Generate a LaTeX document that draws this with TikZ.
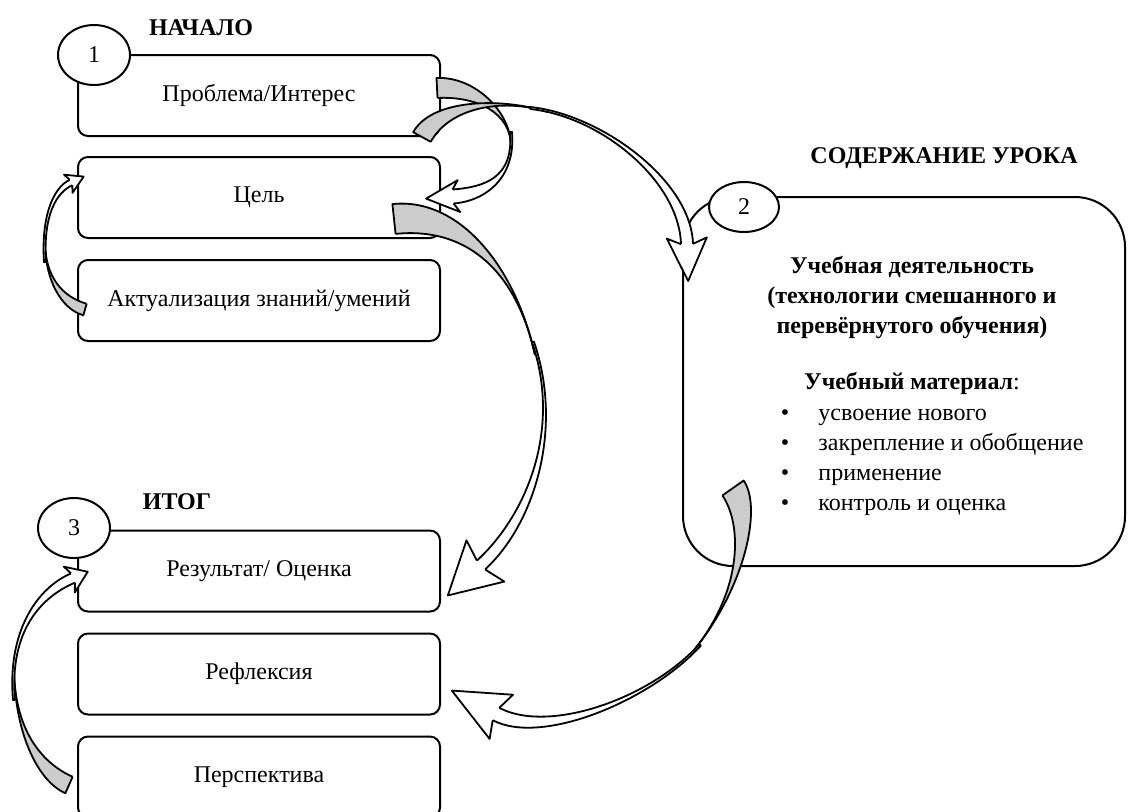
\documentclass[tikz,border=0pt]{standalone}
\usepackage{fontspec}
\setmainfont{Liberation Serif}
\usetikzlibrary{positioning,calc,shapes.geometric}
\definecolor{ribgray}{HTML}{CCCCCC}
\tikzset{
  stagebox/.style   = {draw, fill=white, line width=1pt, rounded corners=5pt, minimum width=181pt, minimum height=40.5pt, font=\fontsize{12}{14}\selectfont},
  lessonbox/.style  = {draw, line width=1pt, rounded corners=25pt, minimum width=221pt, minimum height=184.5pt},
  numcirc/.style    = {ellipse, draw, fill=white, line width=1pt, inner sep=0pt, minimum width=36pt, minimum height=30pt, font=\fontsize{12}{14}\selectfont},
  stagetitle/.style = {font=\fontsize{12}{14}\selectfont\bfseries, inner sep=0pt},
  lessontext/.style = {font=\fontsize{12}{15}\selectfont, inner sep=0pt},
  listtext/.style   = {lessontext, text height=8.5pt, text depth=2.5pt},
  ribline/.style    = {line width=0.9pt, line join=round},
}
% tapered band along a curve: start, c1, c2, end, half width at start, half width at end, fill
\newcommand\ribbon[7]{%
  \path ($#1!#5!90:#2$) coordinate (rbA)
        ($#1!#5!-90:#2$) coordinate (rbB)
        ($#4!#6!-90:#3$) coordinate (rbC)
        ($#4!#6!90:#3$)  coordinate (rbD);
  \fill[#7] (rbA) .. controls ($#2+(rbA)-#1$) and ($#3+(rbC)-#4$) .. (rbC)
     -- (rbD) .. controls ($#3+(rbD)-#4$) and ($#2+(rbB)-#1$) .. (rbB) -- cycle;
  \draw[ribline] (rbB) -- (rbA) .. controls ($#2+(rbA)-#1$) and ($#3+(rbC)-#4$) .. (rbC);
  \draw[ribline] (rbD) .. controls ($#3+(rbD)-#4$) and ($#2+(rbB)-#1$) .. (rbB);
}
% head at the end of a band: c2, base, shaft half width, barb half width, length, notch
\newcommand\ribhead[6]{%
  \path ($#2!#3!-90:#1$) coordinate (hdL)
        ($#2!#3!90:#1$)  coordinate (hdR)
        ($#2!#6!#1$)     coordinate (hdN)
        ($#2!-#5!#1$)    coordinate (hdT);
  \path ($(hdN)!#4!-90:#1$) coordinate (hdBL)
        ($(hdN)!#4!90:#1$)  coordinate (hdBR);
  \fill[white] (hdL) -- (hdBL) -- (hdT) -- (hdBR) -- (hdR) -- cycle;
  \draw[ribline] (hdL) -- (hdBL) -- (hdT) -- (hdBR) -- (hdR);
}

\begin{document}
\begin{tikzpicture}[x=0.5pt,y=-0.5pt]
\path[use as bounding box] (0,0) rectangle (1128,811);

% ---- start ----------------------------------------------------------------
\node[stagebox] (prob) at (259,95.5) {Проблема/Интерес};
\node[stagebox, below=9.5pt of prob] (goal) {Цель};
\node[stagebox, below=10pt of goal] (recall) {Актуализация знаний/умений};

% ---- outcome --------------------------------------------------------------
\node[stagebox] (res) at (259,571) {Результат/ Оценка};
\node[stagebox, below=10pt of res] (refl) {Рефлексия};
\node[stagebox, below=10pt of refl] (persp) {Перспектива};

% ---- lesson content -------------------------------------------------------
\node[lessonbox] (content) at (904,381.5) {};
\node[lessontext, font=\fontsize{12}{15}\selectfont\bfseries, align=center] (act) at (912,297)
  {Учебная деятельность\\(технологии смешанного и\\перевёрнутого обучения)};
\node[lessontext] (mat) at (912,383) {\textbf{Учебный материал}:};
\foreach \y/\txt [count=\i] in {414/усвоение нового, 444/закрепление и обобщение, 474/применение, 504/контроль и оценка}{
  \node[listtext] (dot\i) at (785,\y) {\textbullet};
  \node[listtext, anchor=west] (item\i) at (818,\y) {\txt};
}

% ---- arrows ---------------------------------------------------------------
\coordinate (a3s) at ($(goal.south east)+(-47,-20)$);
\coordinate (a3e) at ($(res.east)+(40,-6)$);
\ribbon{(a3s)}{(460,212)}{(515,265)}{(535,355)}{7.5pt}{0pt}{ribgray}
\ribbon{(533,342)}{(563,430)}{(530,520)}{(a3e)}{0.5pt}{3pt}{white}
\ribhead{(530,520)}{(a3e)}{3pt}{14pt}{22.5pt}{3pt}

\coordinate (a2s) at ($(prob.east)+(-4,-7.5)$);
\coordinate (a2e) at ($(goal.east)+(12,-1)$);
\ribbon{(a2s)}{(475,86)}{(512,112)}{(511,148)}{5pt}{0pt}{ribgray}
\ribbon{(511,132)}{(515,178)}{(485,194)}{(a2e)}{0.5pt}{3.5pt}{white}
\ribhead{(485,194)}{(a2e)}{3.5pt}{8pt}{13.5pt}{3pt}

\coordinate (a1s) at ($(prob.south east)+(-19,0)$);
\coordinate (a1e) at ($(content.north west)+(5,48)$);
\ribbon{(a1s)}{(440,104)}{(500,97)}{(548,112)}{5pt}{0pt}{ribgray}
\ribbon{(530,108)}{(600,115)}{(685,180)}{(a1e)}{0.5pt}{3pt}{white}
\ribhead{(685,180)}{(a1e)}{3pt}{10pt}{18.5pt}{3pt}

\coordinate (a4s) at ($(content.south west)+(51,-79)$);
\coordinate (a4e) at ($(refl.east)+(55,40)$);
\ribbon{(a4s)}{(752,515)}{(745,590)}{(690,655)}{6.5pt}{0pt}{ribgray}
\ribbon{(700,645)}{(650,700)}{(545,740)}{(a4e)}{0.5pt}{3.5pt}{white}
\ribhead{(545,740)}{(a4e)}{3.5pt}{12.5pt}{25pt}{3pt}

\coordinate (a5s) at ($(recall.west)+(8,9)$);
\coordinate (a5e) at ($(goal.west)+(-6,-15)$);
\ribbon{(a5s)}{(62,303)}{(44,278)}{(45,238)}{3pt}{0pt}{ribgray}
\ribbon{(45,262)}{(42,215)}{(55,190)}{(a5e)}{0.5pt}{1.5pt}{white}
\ribhead{(55,190)}{(a5e)}{1.5pt}{5pt}{7pt}{1.5pt}

\coordinate (a6s) at ($(persp.west)+(-8,8)$);
\coordinate (a6e) at ($(res.west)+(-4,7)$);
\ribbon{(a6s)}{(42,773)}{(15,735)}{(14,670)}{4.5pt}{0pt}{ribgray}
\ribbon{(14,700)}{(8,630)}{(40,592)}{(a6e)}{0.5pt}{2.5pt}{white}
\ribhead{(40,592)}{(a6e)}{2.5pt}{7pt}{8pt}{2pt}

% ---- numbers and titles ---------------------------------------------------
\node[numcirc] (n1) at (94,55) {1};
\node[numcirc, minimum width=35pt, minimum height=25pt] (n2) at (744,207) {2};
\node[numcirc] (n3) at (74,528) {3};

\node[stagetitle] (t1) at (201,28) {НАЧАЛО};
\node[stagetitle] (t2) at (944,158) {СОДЕРЖАНИЕ УРОКА};
\node[stagetitle] (t3) at (177,502) {ИТОГ};

\end{tikzpicture}
\end{document}
